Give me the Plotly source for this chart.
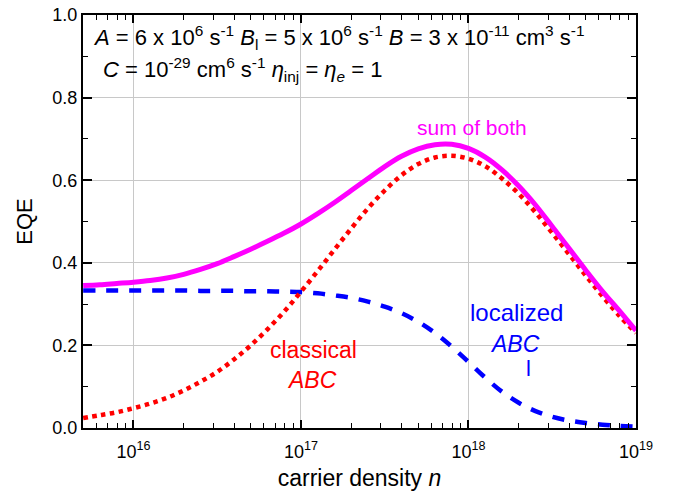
import plotly.graph_objects as go

# carrier density (log10 of n, cm^-3)
log_n = [15.7, 15.8, 15.9, 16.0, 16.1, 16.2, 16.3, 16.4, 16.5, 16.6, 16.7, 16.8, 16.9,
         17.0, 17.1, 17.2, 17.3, 17.4, 17.5, 17.6, 17.7, 17.8, 17.9,
         18.0, 18.1, 18.2, 18.3, 18.4, 18.5, 18.6, 18.7, 18.8, 18.9, 19.0]
n_vals = [10 ** v for v in log_n]

eqe_classical = [0.024, 0.031, 0.038, 0.048, 0.059, 0.073, 0.091, 0.112, 0.136, 0.166, 0.200, 0.239, 0.282,
                 0.330, 0.380, 0.432, 0.483, 0.532, 0.575, 0.612, 0.639, 0.655, 0.659,
                 0.652, 0.634, 0.604, 0.567, 0.522, 0.472, 0.421, 0.369, 0.319, 0.272, 0.230]

eqe_localized = [0.333, 0.333, 0.333, 0.333, 0.333, 0.333, 0.333, 0.332, 0.332, 0.332, 0.331, 0.331, 0.330,
                 0.329, 0.326, 0.321, 0.315, 0.306, 0.294, 0.278, 0.257, 0.230, 0.197,
                 0.160, 0.122, 0.088, 0.061, 0.041, 0.027, 0.018, 0.012, 0.008, 0.005, 0.003]

eqe_sum = [0.345, 0.347, 0.350, 0.353, 0.357, 0.363, 0.372, 0.384, 0.398, 0.415, 0.433, 0.452, 0.472,
           0.494, 0.519, 0.546, 0.575, 0.604, 0.633, 0.658, 0.676, 0.686, 0.687,
           0.677, 0.656, 0.625, 0.586, 0.540, 0.488, 0.435, 0.382, 0.331, 0.284, 0.236]

x_tick_vals = [1e16, 1e17, 1e18, 1e19]
x_tick_text = ["10<sup>16</sup>", "10<sup>17</sup>", "10<sup>18</sup>", "10<sup>19</sup>"]
x_minor_vals = [m * 10 ** d for d in (15, 16, 17, 18) for m in range(2, 10) if 5e15 <= m * 10 ** d <= 1e19]
y_tick_vals = [0.0, 0.2, 0.4, 0.6, 0.8, 1.0]
y_tick_text = ["0.0", "0.2", "0.4", "0.6", "0.8", "1.0"]

FONT = "Liberation Sans, Arial, sans-serif"

fig = go.Figure()
fig.add_trace(go.Scatter(x=n_vals, y=eqe_localized, mode="lines", line_shape="spline",
                         line=dict(color="#0000FF", width=4.5, dash="12px,11px"), showlegend=False))
fig.add_trace(go.Scatter(x=n_vals, y=eqe_classical, mode="lines", line_shape="spline",
                         line=dict(color="#FF0000", width=4.5, dash="4.5px,4.5px"), showlegend=False))
fig.add_trace(go.Scatter(x=n_vals, y=eqe_sum, mode="lines", line_shape="spline",
                         line=dict(color="#FF00FF", width=5), showlegend=False))

W, H = 674, 494
L, R, T, B = 83, 38, 15, 66
pw, ph = W - L - R, H - T - B

def px(x):
    return (x - L) / pw

def py(y):
    return (H - B - y) / ph

annots = [
    dict(text="<i>A</i> = 6 x 10<sup>6</sup> s<sup>-1</sup> <i>B</i><sub>l</sub> = 5 x 10<sup>6</sup> s<sup>-1</sup> "
              "<i>B</i> = 3 x 10<sup>-11</sup> cm<sup>3</sup> s<sup>-1</sup>",
         x=px(91), y=py(37), xanchor="left", yanchor="middle", font=dict(size=22, color="black")),
    dict(text="<i>C</i> = 10<sup>-29</sup> cm<sup>6</sup> s<sup>-1</sup> <i>η</i><sub>inj</sub> = <i>η</i><sub><i>e</i></sub> = 1",
         x=px(101), y=py(69), xanchor="left", yanchor="middle", font=dict(size=22, color="black")),
    dict(text="sum of both", x=px(472), y=py(127), xanchor="center", yanchor="middle",
         font=dict(size=21, color="#FF00FF")),
    dict(text="classical", x=px(313), y=py(350), xanchor="center", yanchor="middle",
         font=dict(size=23, color="#FF0000")),
    dict(text="<i>ABC</i>", x=px(312), y=py(380), xanchor="center", yanchor="middle",
         font=dict(size=23, color="#FF0000")),
    dict(text="localized", x=px(516), y=py(312), xanchor="center", yanchor="middle",
         font=dict(size=24, color="#0000FF")),
    dict(text="<i>ABC</i>", x=px(515), y=py(344), xanchor="center", yanchor="middle",
         font=dict(size=23, color="#0000FF")),
    dict(text="l", x=px(528), y=py(368), xanchor="center", yanchor="middle",
         font=dict(size=22, color="#0000FF")),
]
for a in annots:
    a.update(xref="paper", yref="paper", showarrow=False)

fig.update_layout(
    width=W, height=H,
    margin=dict(l=L, r=R, t=T, b=B, autoexpand=False),
    paper_bgcolor="white", plot_bgcolor="white",
    font=dict(family=FONT, size=18, color="black"),
    annotations=annots,
    xaxis=dict(
        type="log", range=[15.699, 19.0], automargin=False,
        tickmode="array", tickvals=x_tick_vals, ticktext=x_tick_text,
        ticks="inside", ticklen=8, tickwidth=1.5, tickcolor="black",
        minor=dict(tickmode="array", tickvals=x_minor_vals, ticks="inside", ticklen=5,
                   tickwidth=1.2, tickcolor="black", showgrid=False),
        showline=True, linecolor="black", linewidth=2, mirror="allticks",
        showgrid=True, gridcolor="#C8C8C8", gridwidth=1,
        zeroline=False,
        tickfont=dict(size=18),
        ticklabelstandoff=6, ticklabeloverflow="allow",
        title=dict(text="carrier density <i>n</i>", font=dict(size=23), standoff=9),
    ),
    yaxis=dict(
        range=[0, 1.0], automargin=False,
        tickmode="array", tickvals=y_tick_vals, ticktext=y_tick_text,
        ticks="inside", ticklen=9, tickwidth=1.5, tickcolor="black",
        minor=dict(tickmode="array", tickvals=[0.1, 0.3, 0.5, 0.7, 0.9], ticks="inside", ticklen=5,
                   tickwidth=1.2, tickcolor="black", showgrid=False),
        showline=True, linecolor="black", linewidth=2, mirror="allticks",
        showgrid=True, gridcolor="#C8C8C8", gridwidth=1,
        zeroline=False,
        tickfont=dict(size=18), ticklabeloverflow="allow",
        title=dict(text="EQE", font=dict(size=22), standoff=14),
    ),
)

# remove the browser's default 8px body margin so the figure sits at the window origin
fig.write_html("out.html", config={"displayModeBar": False},
               post_script="document.body.style.margin='0';")
